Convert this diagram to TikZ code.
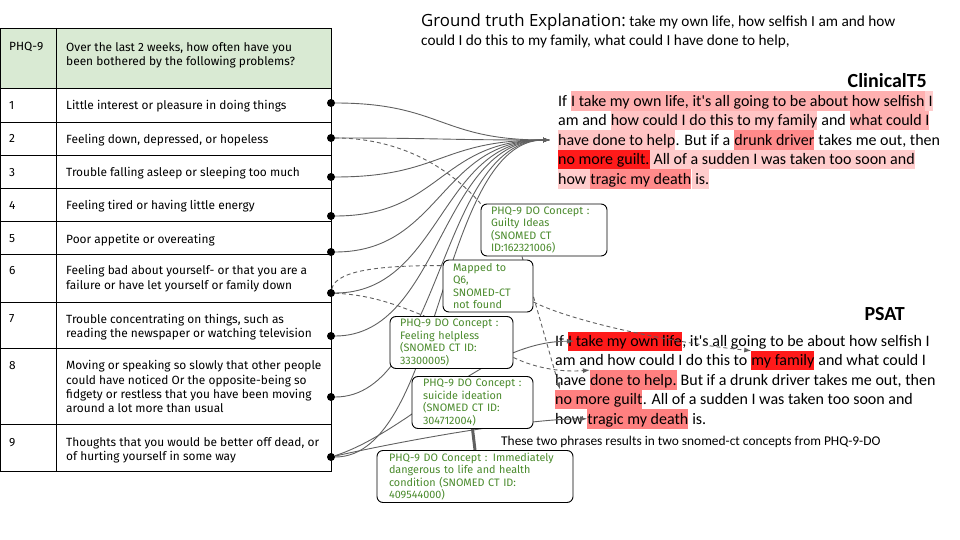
\documentclass[tikz,border=0pt]{standalone}
\usepackage{fontspec}
\newfontfamily\firafont{Fira Sans}
\newfontfamily\calfont{Carlito}
\newfontfamily\opfont{Open Sans}
\usetikzlibrary{positioning,arrows.meta}
\pgfdeclarelayer{front}
\pgfsetlayers{main,front}
\definecolor{hdrgreen}{HTML}{D9EAD3}
\definecolor{boxgreen}{HTML}{4A8A2C}
\definecolor{linegray}{HTML}{606060}
\definecolor{hlA}{HTML}{FFCCCC}
\definecolor{hlB}{HTML}{FFC4C4}
\definecolor{hlC}{HTML}{FFB0B0}
\definecolor{hlD}{HTML}{FF8A8A}
\definecolor{hlE}{HTML}{FF1A1A}
\definecolor{hlS}{HTML}{FF8080}
\newcommand{\hlstrut}{\rule[-4.4pt]{0pt}{19.4pt}}

\begin{document}
\begin{tikzpicture}[x=1pt,y=-1pt,
		>={Latex[length=7pt,width=5pt]},
		mydot/.style={circle,fill,inner sep=0pt,minimum size=8pt},
		cell/.style={anchor=north west,inner sep=0pt,align=left,font=\firafont\fontsize{11.9}{14.1}\selectfont},
		num/.style={anchor=base west,inner sep=0pt,font=\firafont\fontsize{11.9}{14.1}\selectfont},
		conbox/.style={draw,line width=0.9pt,rounded corners=6pt,fill=white,text=boxgreen,align=left,inner xsep=10pt,inner ysep=0pt,minimum height=52pt,font=\firafont\fontsize{10.8}{12.6}\selectfont},
		seg/.style={anchor=base west,inner sep=0pt,font=\calfont\fontsize{16}{19.4}\selectfont},
		hl/.style={seg,fill=#1},
		title/.style={anchor=base east,inner sep=0pt,font=\calfont\bfseries\fontsize{20}{24}\selectfont},
		conline/.style={draw=linegray,line width=0.9pt},
		dashline/.style={conline,dash pattern=on 4pt off 3pt}]

		\useasboundingbox (0,0) rectangle (960,540);

		% PHQ-9 table
		\fill[hdrgreen] (0,28) rectangle (331,88);
		\draw[line width=0.9pt] (0.5,28) rectangle (331,471);
		\draw[line width=0.9pt] (56,28) -- (56,471);
		\foreach \y in {88,122,155,188,221,254,302,348,424}
			\draw[line width=0.9pt] (0.5,\y) -- (331,\y);

		\node[num] (nh) at (9,51) {PHQ-9};
		\foreach \i/\y in {1/109.3,2/142.6,3/176,4/209.3,5/242.6,6/274.3,7/322.6,8/369.3,9/446}
			\node[num] (n\i) at (9,\y) {\i};

		\node[cell] (qh) at (66,42.2) {Over the last 2 weeks, how often have you\\been bothered by the following problems?};
		\node[cell] (q1) at (66,100.5) {Little interest or pleasure in doing things};
		\node[cell] (q2) at (66,133.8) {Feeling down, depressed, or hopeless};
		\node[cell] (q3) at (66,167.2) {Trouble falling asleep or sleeping too much};
		\node[cell] (q4) at (66,200.5) {Feeling tired or having little energy};
		\node[cell] (q5) at (66,233.8) {Poor appetite or overeating};
		\node[cell] (q6) at (66,265.5) {Feeling bad about yourself- or that you are a\\failure or have let yourself or family down};
		\node[cell] (q7) at (66,313.8) {Trouble concentrating on things, such as\\reading the newspaper or watching television};
		\node[cell] (q8) at (66,360.5) {Moving or speaking so slowly that other people\\could have noticed Or the opposite-being so\\fidgety or restless that you have been moving\\around a lot more than usual};
		\node[cell] (q9) at (66,437.2) {Thoughts that you would be better off dead, or\\of hurting yourself in some way};

		% ground truth
		\node[anchor=base west,inner sep=0pt] (gt1) at (421,27) {{\opfont\fontsize{16.8}{20}\selectfont Ground truth Explanation:}{\calfont\fontsize{15.3}{19}\selectfont\ take my own life, how selfish I am and how}};
		\node[anchor=base west,inner sep=0pt,font=\calfont\fontsize{15.3}{19}\selectfont] (gt2) at (421,46) {could I do this to my family, what could I have done to help,};

		% ClinicalT5
		\node[title] (ttl1) at (927,88) {ClinicalT5};
		\node[seg] (c1a) at (558,106.5) {If\ \hlstrut};
		\node[hl=hlC] (c1b) at (c1a.base east) {I take my own life, it's all going to be about how selfish\hlstrut};
		\node[hl=hlA] (c1c) at (c1b.base east) {\ I\hlstrut};
		\node[seg] (c2a) at (558,125.9) {am and\ \hlstrut};
		\node[hl=hlB] (c2b) at (c2a.base east) {how could I do this to my family\hlstrut};
		\node[seg] (c2c) at (c2b.base east) {\ and\ \hlstrut};
		\node[hl=hlC] (c2d) at (c2c.base east) {what could I\hlstrut};
		\node[hl=hlB] (c3a) at (558,145.3) {have done to help\hlstrut};
		\node[seg] (c3b) at (c3a.base east) {. But if a\ \hlstrut};
		\node[hl=hlD] (c3c) at (c3b.base east) {drunk driver\hlstrut};
		\node[seg] (c3d) at (c3c.base east) {\ takes me out, then\hlstrut};
		\node[hl=hlE] (c4a) at (558,164.7) {no more guilt.\hlstrut};
		\node[hl=hlA] (c4b) at (c4a.base east) {\ All of a sudden I was taken too soon and\hlstrut};
		\node[hl=hlA] (c5a) at (558,184.1) {how\ \hlstrut};
		\node[hl=hlD] (c5b) at (c5a.base east) {tragic my death\hlstrut};
		\node[hl=hlA] (c5c) at (c5b.base east) {\ is.\hlstrut};
		\coordinate (hub) at ([xshift=-8pt]c3a.west);

		% PSAT
		\node[title] (ttl2) at (905,320.5) {PSAT};
		\node[seg] (p1a) at (555,346.5) {If\ \hlstrut};
		\node[hl=hlE] (p1b) at (p1a.base east) {I take my own life\hlstrut};
		\node[seg] (p1c) at (p1b.base east) {, it's all going to be about how selfish I\hlstrut};
		\node[seg] (p2a) at (555,365.9) {am and how could I do this to\ \hlstrut};
		\node[hl=hlE] (p2b) at (p2a.base east) {my family\hlstrut};
		\node[seg] (p2c) at (p2b.base east) {\ and what could I\hlstrut};
		\node[seg] (p3a) at (555,385.3) {have\ \hlstrut};
		\node[hl=hlS] (p3b) at (p3a.base east) {done to help.\hlstrut};
		\node[seg] (p3c) at (p3b.base east) {\ But if a drunk driver takes me out, then\hlstrut};
		\node[hl=hlS] (p4a) at (555,404.7) {no more guilt\hlstrut};
		\node[seg] (p4b) at (p4a.base east) {. All of a sudden I was taken too soon and\hlstrut};
		\node[seg] (p5a) at (555,424.1) {how\ \hlstrut};
		\node[hl=hlS] (p5b) at (p5a.base east) {tragic my death\hlstrut};
		\node[seg] (p5c) at (p5b.base east) {\ is.\hlstrut};

		\node[anchor=base west,inner sep=0pt,font=\calfont\fontsize{13.4}{16}\selectfont] (note) at (501,445) {These two phrases results in two snomed-ct concepts from PHQ-9-DO};

		% concept boxes and dots
		\begin{pgfonlayer}{front}
		\node[conbox,text width=106pt] (gbox) at (544,230) {PHQ-9 DO Concept :\\Guilty Ideas\\(SNOMED CT\\ID:162321006)};
		\node[conbox,text width=70pt] (mbox) at (488,286) {Mapped to\\Q6,\\SNOMED-CT\\not found};
		\node[conbox,text width=103pt] (hbox) at (451.5,342.5) {PHQ-9 DO Concept :\\Feeling helpless\\(SNOMED CT ID:\\33300005)};
		\node[conbox,text width=99pt,inner xsep=11pt] (sbox) at (472.5,402.5) {PHQ-9 DO Concept :\\suicide ideation\\(SNOMED CT ID:\\304712004)};
		\node[conbox,text width=172pt,inner xsep=12pt] (ibox) at (475,476.5) {PHQ-9 DO Concept : Immediately\\dangerous to life and health\\condition (SNOMED CT ID:\\409544000)};
		\foreach \i/\y in {1/103,2/138,3/177,4/216,5/252,6/293,7/336,8/397,9/457}
			\coordinate[mydot] (d\i) at (331,\y);
		\end{pgfonlayer}

		% connectors
		\foreach \i in {1,...,9}
			\draw[conline,->] (d\i) .. controls +(110,0) and +(-110,0) .. (hub);
		\draw[conline,->] (d9) .. controls +(80,-26) and +(-90,0) .. ([xshift=6pt]p1b.west);
		\draw[conline,->] (d9) .. controls +(80,-18) and +(-60,0) .. (p5b.west);
		\draw[line width=3pt,linegray] (sbox.south) -- (ibox.north);

		\draw[dashline] (d2) .. controls +(70,0) and +(-30,-35) .. (gbox.north west);
		\draw[dashline] (d6) .. controls +(5,-25) and +(-50,0) .. ([yshift=-6pt]mbox.north west);
		\draw[dashline] (d6) .. controls +(40,2) and +(-30,-12) .. ([xshift=35pt]hbox.north west);
		\draw[dashline,->] ([xshift=-22pt]gbox.south) -- ([xshift=5pt]p4a.north west);
		\draw[dashline,->] ([yshift=-16pt]mbox.east) .. controls +(40,20) and +(-80,-8) .. (p2b.north west);
		\draw[dashline,->] ([yshift=-15pt]hbox.east) .. controls +(25,12) and +(-25,2) .. (p3b.north west);
\end{tikzpicture}
\end{document}
